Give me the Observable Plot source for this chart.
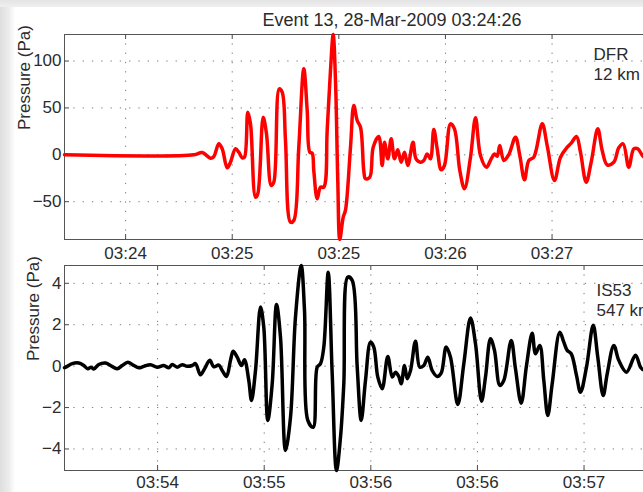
<!DOCTYPE html>
<html>
<head>
<meta charset="utf-8">
<script src="https://cdn.jsdelivr.net/npm/d3@7"></script>
<script src="https://cdn.jsdelivr.net/npm/@observablehq/plot@0.6"></script>
<style>
  html, body { margin: 0; padding: 0; width: 643px; height: 492px; overflow: hidden; background: #fff;
    font-family: "Liberation Sans", Arial, Helvetica, sans-serif; color: #2b2b2b; }
  #edge-left { position: absolute; left: 0; top: 0; width: 16px; height: 492px;
    background: linear-gradient(to right, #dedede, #ececec 55%, #fbfbfb 85%, #fff); }
  #edge-top { position: absolute; left: 0; top: 0; width: 643px; height: 7px;
    background: linear-gradient(#e4e4e4, #efefef); }
  #title { position: absolute; top: 11px; left: 0; width: 784px; text-align: center;
    font-size: 18px; line-height: 18px; white-space: nowrap; }
  .panel { position: absolute; left: 0; width: 672px; }
  .panel svg { max-width: none !important; }
  #top { top: 0; }
  #bottom { top: 262px; }
</style>
</head>
<body>
<div id="edge-left"></div>
<div id="edge-top"></div>
<div id="top" class="panel"></div>
<div id="bottom" class="panel"></div>
<div id="title"></div>
<script>
// Infrasound records of one event at two stations (seconds from window start, pressure in Pa)
const title = "Event 13, 28-Mar-2009 03:24:26";

// DFR, 12 km
const dfrTime = [0, 36.4, 38.75, 41.08, 42.0, 43.42, 44.38, 45.78, 46.71, 48.12,
  49.05, 50.0, 50.65, 51.58, 52.34, 53.75, 54.39, 55.91, 56.84, 58.17,
  58.9, 60.42, 61.26, 62.19, 63.6, 64.53, 65.93, 67.34, 68.3, 69.03,
  69.7, 70.15, 71.11, 72.04, 72.97, 73.92, 74.85, 75.61, 76.26, 76.9,
  77.47, 78.43, 79.07, 80.48, 81.41, 82.37, 83.3, 84.22, 84.7, 85.91,
  86.87, 88.44, 89.4, 90.05, 90.97, 91.93, 92.86, 93.79, 94.75, 95.68,
  96.61, 98.07, 98.92, 100.18, 101.11, 102.07, 102.99, 103.92, 104.88, 106.0,
  106.93, 108.62, 109.74, 111.24, 112.56, 114.25, 115.66, 117.06, 118.75, 120.07,
  121.0, 121.76, 122.49, 123.62, 125.03, 126.91, 128.12, 129.45, 130.66, 132.06,
  134.43, 135.83, 137.89, 139.58, 141.46, 142.59, 144.08, 145.2, 146.81, 148.21,
  150.07, 151.31, 152.71, 154.57, 155.98, 157.21, 158.79, 160.2, 161.33, 162.85,
  164.9, 168];
const dfrPa = [0, 0, 2.5, -3.6, -2, 11.7, 6.4, -13.9, -7.9, 6.4,
  2.8, -3.2, -2.5, 45.4, 33, -45.2, -41.6, 40, 22.4, -32.7,
  -29.2, 70.4, 66.8, 15, -71.9, -70, 8, 91.7, 47, 2.8,
  1.7, -16.7, -46.9, -34.5, -34.5, 26, 90, 128.3, 79, -27,
  -90.3, -66.5, -59, 8, 52.6, 36.6, 29.4, -16.7, -25.6, -23.9,
  8.1, 19.5, -11.4, 13.4, -4.3, 17.1, -4.3, 5.3, -7.9, 2.8,
  -11.4, 13.4, -4.3, -7.9, -6, 1, -4.3, 27, 6.4, -16,
  -11.4, 33, 27.7, -16.7, -36.2, -2.5, 39.4, -0.7, -13.2, -4.3,
  1, -1.5, 9.9, -6, 0.3, 18.8, -0.7, -26.7, -6, -2.5,
  33, 9.9, -27.4, -2.5, 8.1, 12.4, 19.5, 2.8, -29.2, -7.9,
  27.7, 4.6, -10.7, -7.9, 7.5, 11.7, -13.2, 6.4, 6.4, -1.8,
  -6, 0];

// IS53, 547 km
const is53Time = [0, 0.76, 2.17, 4.02, 5.43, 6.56, 7.51, 8.25, 9.65, 11.54,
  12.94, 14.83, 16.24, 17.81, 19.5, 20.91, 22.32, 24.2, 26.09, 27.94,
  29.35, 30.31, 31.71, 33.12, 34.53, 35.94, 36.86, 38.27, 39.4, 40.89,
  42.01, 43.42, 44.38, 45.59, 46.71, 47.47, 48.6, 49.81, 50.65, 51.86,
  52.62, 53.75, 55.16, 56.08, 57.21, 58.45, 59.66, 60.78, 62.19, 63.6,
  65.0, 66.61, 67.54, 68.47, 69.99, 71.11, 72.04, 72.97, 74.21, 75.33,
  76.54, 77.67, 78.6, 79.72, 80.96, 82.37, 83.49, 84.7, 86.11, 87.04,
  88.17, 89.4, 90.98, 92.22, 93.15, 94.07, 94.75, 95.68, 96.44, 97.37,
  98.77, 99.98, 101.11, 102.23, 103.47, 104.88, 106.0, 107.41, 108.62, 110.68,
  112.37, 114.25, 115.66, 117.35, 118.47, 119.88, 121.0, 122.5, 123.62, 125.7,
  126.91, 128.52, 130.01, 131.61, 132.54, 133.75, 134.88, 136.0, 137.24, 139.38,
  140.51, 141.46, 142.59, 144.08, 145.2, 146.89, 148.78, 150.07, 151.59, 152.72,
  154.58, 155.98, 158.15, 160.68, 162.09, 162.85, 164.9, 168];
const is53Pa = [-0.08, -0.01, 0.12, 0.15, 0.03, -0.13, -0.05, -0.14, 0.08, 0.15,
  0.03, -0.13, 0.03, 0.19, 0.03, -0.08, -0.01, 0.07, -0.05, 0.03,
  -0.08, 0.08, -0.05, 0.07, -0.01, 0.03, 0.12, -0.42, -0.13, 0.28,
  -0.03, 0.05, -0.21, -0.5, 0.28, 0.72, 0.43, 0.03, 0.31, -0.69,
  -1.66, -0.21, 2.85, 1.88, -2.62, -0.85, 2.98, 1.4, -4.07, -2.46,
  2.37, 4.86, 2.69, -2.62, -2.95, -0.05, 0.12, 0.92, 4.54, -0.37,
  -5.04, -3.43, -0.85, 4.3, 4.14, -0.05, -2.62, -0.69, 1.16, 0.92,
  -0.53, -1.09, 0.47, -0.53, -0.29, -0.5, -0.85, 0.03, -0.61, -0.21,
  1.2, -0.05, 0.03, 0.43, -0.21, -0.5, -0.34, 0.92, 0.43, -1.85,
  0.12, 2.32, 1.08, -1.69, -0.53, 1.32, 0.76, -0.93, -0.69, 1.24,
  -0.13, -1.79, 0.03, 1.59, 0.6, 1.0, -0.69, -2.38, -0.85, 1.64,
  1.16, 0.76, 0.6, -0.45, -1.26, -0.05, 1.97, 0.43, -1.42, -0.37,
  1.0, 0.28, -0.29, 0.52, -0.05, -0.17, 0.3, 0];

// Time ticks every 30 s, labelled HH:MM
const dfrTicks = [17.2, 47.2, 77.2, 107.2, 137.2];
const dfrTickLabels = ["03:24", "03:25", "03:25", "03:26", "03:27"];
const is53Ticks = [26.2, 56.2, 86.2, 116.2, 146.2];
const is53TickLabels = ["03:54", "03:55", "03:56", "03:56", "03:57"];

const dfrPaTicks = [-50, 0, 50, 100];
const is53PaTicks = [-4, -2, 0, 2, 4];

const stationNames = ["DFR", "IS53"];
const stationDistances = ["12 km", "547 km"];
const yLabel = "Pressure (Pa)";

const FONT = "'Liberation Sans', Arial, Helvetica, sans-serif";

function panel(cfg) {
  const W = 672, ML = 64, MR = 11;
  const frameH = cfg.height - cfg.marginTop - cfg.marginBottom;
  const frameW = W - ML - MR;
  const rows = cfg.time.map((t, i) => ({t, p: cfg.pa[i]}));
  const fmt = d => cfg.tickLabels[cfg.ticks.indexOf(d)];
  const dots = {stroke: "#7a7a7a", strokeWidth: 1, strokeDasharray: "1.3,8"};
  return Plot.plot({
    width: W, height: cfg.height,
    marginLeft: ML, marginRight: MR, marginTop: cfg.marginTop, marginBottom: cfg.marginBottom,
    style: {fontFamily: FONT, fontSize: "17px", color: "#2b2b2b", background: "transparent",
      overflow: "visible", maxWidth: "none"},
    x: {domain: d3.extent(cfg.time)},
    y: {domain: d3.extent(cfg.pa)},
    marks: [
      Plot.ruleX(cfg.ticks, dots),
      Plot.ruleY(cfg.yTicks, dots),
      Plot.tickX(cfg.ticks, {stroke: "#4a4a4a", insetTop: frameH - 5}),
      Plot.tickX(cfg.ticks, {stroke: "#4a4a4a", insetBottom: frameH - 5}),
      Plot.tickY(cfg.yTicks, {stroke: "#4a4a4a", insetRight: frameW - 5}),
      Plot.axisX({ticks: cfg.ticks, tickFormat: fmt, tickSize: 0, tickPadding: cfg.xPad, label: null, fontSize: 17}),
      Plot.axisY({ticks: cfg.yTicks, tickSize: 0, tickPadding: 3, label: null, fontSize: 17}),
      Plot.frame({stroke: "#555", strokeWidth: 1}),
      Plot.line(rows, {x: "t", y: "p", stroke: cfg.color, strokeWidth: 3.5, curve: "catmull-rom",
        strokeLinejoin: "round", strokeLinecap: "round"}),
      Plot.text([cfg.station + "\n" + cfg.distance], {frameAnchor: "top-left", textAnchor: "start",
        lineAnchor: "top", dx: cfg.labelDx, dy: cfg.labelDy, fontSize: 17, lineHeight: 1.17, fill: "#2b2b2b"}),
      Plot.text([yLabel], {frameAnchor: "left", rotate: -90, dx: cfg.yLabelDx, dy: -7, fontSize: 17, fill: "#2b2b2b"})
    ]
  });
}

document.getElementById("title").textContent = title;

document.getElementById("top").append(panel({
  time: dfrTime, pa: dfrPa, color: "#ff0000",
  ticks: dfrTicks, tickLabels: dfrTickLabels, yTicks: dfrPaTicks,
  station: stationNames[0], distance: stationDistances[0],
  height: 262, marginTop: 34, marginBottom: 23, xPad: 7,
  labelDx: 529, labelDy: 11, yLabelDx: -40
}));

document.getElementById("bottom").append(panel({
  time: is53Time, pa: is53Pa, color: "#000000",
  ticks: is53Ticks, tickLabels: is53TickLabels, yTicks: is53PaTicks,
  station: stationNames[1], distance: stationDistances[1],
  height: 232, marginTop: 3, marginBottom: 24, xPad: 5,
  labelDx: 532, labelDy: 16, yLabelDx: -31
}));
</script>
</body>
</html>
